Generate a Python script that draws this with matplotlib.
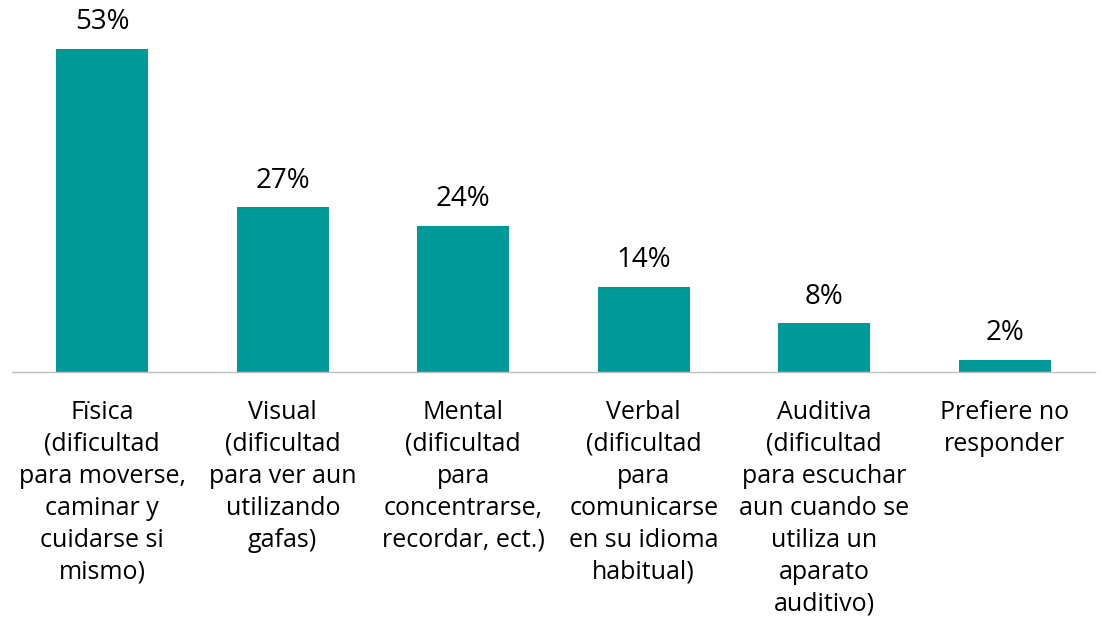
import matplotlib.pyplot as plt

categories = [
    "Fïsica\n(dificultad\npara moverse,\ncaminar y\ncuidarse si\nmismo)",
    "Visual\n(dificultad\npara ver aun\nutilizando\ngafas)",
    "Mental\n(dificultad\npara\nconcentrarse,\nrecordar, ect.)",
    "Verbal\n(dificultad\npara\ncomunicarse\nen su idioma\nhabitual)",
    "Auditiva\n(dificultad\npara escuchar\naun cuando se\nutiliza un\naparato\nauditivo)",
    "Prefiere no\nresponder",
]
values = [53, 27, 24, 14, 8, 2]

plt.rcParams['font.family'] = ['Open Sans', 'DejaVu Sans']

fig = plt.figure(figsize=(11.01, 6.24), dpi=100)
ax = fig.add_axes([12 / 1101, 1 - 372 / 624, (1095 - 12) / 1101, 366 / 624])

x = range(len(values))
bars = ax.bar(x, values, width=0.51, color="#009999")
for xi, v in zip(x, values):
    ax.annotate(f"{v}%", (xi, v), xytext=(0, 9), textcoords="offset points",
                ha="center", va="bottom", fontsize=20, color="#000000")

ax.set_xlim(-0.5, 5.5)
ax.set_ylim(0, 60)
ax.set_xticks(list(x))
ax.set_xticklabels(categories, fontsize=18, linespacing=1.37)
ax.tick_params(axis="x", length=0, pad=20)
ax.set_yticks([])
for s in ["top", "right", "left"]:
    ax.spines[s].set_visible(False)
ax.spines["bottom"].set_color("#BFBFBF")
ax.spines["bottom"].set_linewidth(1)

fig.savefig("out.png", dpi=100)
